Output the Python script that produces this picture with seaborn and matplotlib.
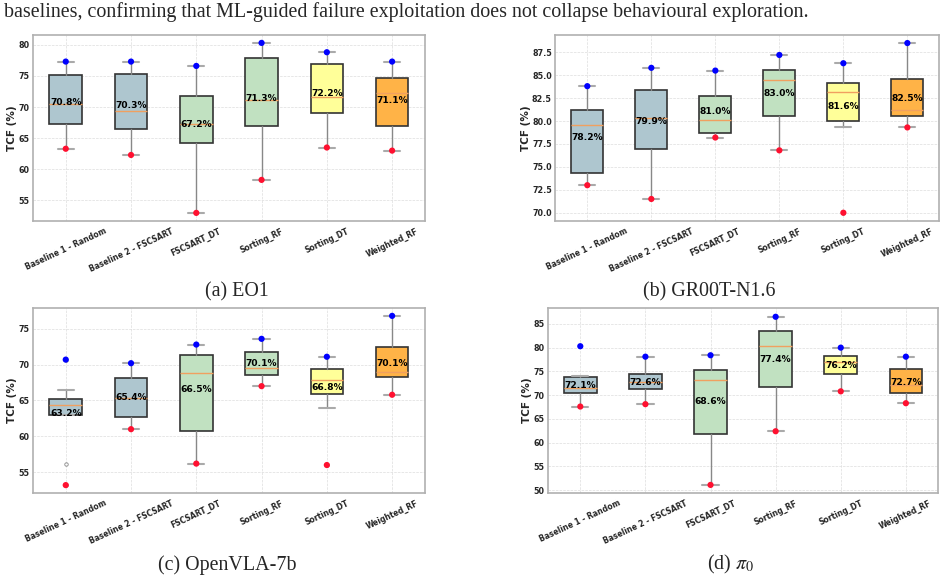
import numpy as np
import pandas as pd
import seaborn as sns
import matplotlib.pyplot as plt
from matplotlib.ticker import MultipleLocator

# style first, fonts after (set_style resets font.family)
sns.set_style("whitegrid", {"grid.linestyle": "--", "grid.color": "#dddddd"})
plt.rcParams['font.family'] = ['DejaVu Sans']
plt.rcParams['mathtext.fontset'] = 'stix'

methods = ["Baseline 1 - Random", "Baseline 2 - FSCSART", "FSCSART_DT",
           "Sorting_RF", "Sorting_DT", "Weighted_RF"]
box_colors = ["#aec6cf", "#aec6cf", "#c1e1c1", "#c1e1c1", "#ffff99", "#ffb347"]

# (a) EO1
eo1_q1 = [67.2, 66.5, 64.2, 67.0, 69.1, 67.0]
eo1_med = [70.5, 69.3, 67.2, 71.1, 71.6, 72.3]
eo1_q3 = [75.1, 75.3, 71.8, 77.8, 76.9, 74.6]
eo1_whislo = [63.3, 62.3, 53.0, 58.3, 63.5, 63.0]
eo1_whishi = [77.3, 77.3, 76.6, 80.3, 78.8, 77.3]
eo1_fliers = [[], [], [], [], [], []]
eo1_min = [63.3, 62.3, 53.0, 58.3, 63.5, 63.0]
eo1_max = [77.3, 77.3, 76.6, 80.3, 78.8, 77.3]
eo1_mean = [70.8, 70.3, 67.2, 71.3, 72.2, 71.1]

# (b) GR00T-N1.6
gr_q1 = [74.3, 77.0, 78.7, 80.6, 80.0, 80.6]
gr_med = [79.6, 80.3, 80.1, 84.5, 83.2, 81.2]
gr_q3 = [81.2, 83.4, 82.7, 85.6, 84.1, 84.6]
gr_whislo = [73.0, 71.5, 78.2, 76.8, 79.3, 79.3]
gr_whishi = [83.8, 85.8, 85.5, 87.2, 86.3, 88.5]
gr_fliers = [[], [], [], [], [70.0], []]
gr_min = [73.0, 71.5, 78.2, 76.8, 70.0, 79.3]
gr_max = [83.8, 85.8, 85.5, 87.2, 86.3, 88.5]
gr_mean = [78.2, 79.9, 81.0, 83.0, 81.6, 82.5]

# (c) OpenVLA-7b
ov_q1 = [63.0, 62.7, 60.8, 68.5, 65.9, 68.3]
ov_med = [64.4, 65.3, 68.9, 69.5, 67.8, 69.0]
ov_q3 = [65.2, 68.2, 71.4, 71.8, 69.4, 72.5]
ov_whislo = [63.0, 61.0, 56.2, 67.0, 64.0, 65.8]
ov_whishi = [66.5, 70.2, 72.8, 73.6, 71.1, 76.8]
ov_fliers = [[70.7, 56.2, 53.2], [], [], [], [56.0], []]
ov_min = [53.2, 61.0, 56.2, 67.0, 56.0, 65.8]
ov_max = [70.7, 70.2, 72.8, 73.6, 71.1, 76.8]
ov_mean = [63.2, 65.4, 66.5, 70.1, 66.8, 70.1]

# (d) pi_0
pi_q1 = [70.5, 71.2, 61.9, 71.8, 74.5, 70.5]
pi_med = [71.4, 72.8, 73.2, 80.3, 76.9, 72.1]
pi_q3 = [73.8, 74.5, 75.2, 83.4, 78.2, 75.5]
pi_whislo = [67.6, 68.1, 51.1, 62.4, 70.8, 68.3]
pi_whishi = [74.1, 78.1, 78.4, 86.5, 80.0, 78.1]
pi_fliers = [[80.3], [], [], [], [], []]
pi_min = [67.6, 68.1, 51.1, 62.4, 70.8, 68.3]
pi_max = [80.3, 78.1, 78.4, 86.5, 80.0, 78.1]
pi_mean = [72.1, 72.6, 68.6, 77.4, 76.2, 72.7]

panels = [
    ("(a) EO1", eo1_q1, eo1_med, eo1_q3, eo1_whislo, eo1_whishi, eo1_fliers, eo1_min, eo1_max, eo1_mean, (51.7, 81.6), 5),
    ("(b) GR00T-N1.6", gr_q1, gr_med, gr_q3, gr_whislo, gr_whishi, gr_fliers, gr_min, gr_max, gr_mean, (69.1, 89.4), 2.5),
    ("(c) OpenVLA-7b", ov_q1, ov_med, ov_q3, ov_whislo, ov_whishi, ov_fliers, ov_min, ov_max, ov_mean, (52.1, 77.9), 5),
    (r"(d) $\pi_0$", pi_q1, pi_med, pi_q3, pi_whislo, pi_whishi, pi_fliers, pi_min, pi_max, pi_mean, (49.4, 88.35), 5),
]

# axes rectangles in figure fractions
rects = [
    [0.035, 0.619, 0.414, 0.321],
    [0.587, 0.619, 0.406, 0.321],
    [0.035, 0.150, 0.414, 0.319],
    [0.579, 0.150, 0.413, 0.319],
]
caption_xy = [(0.25, 0.497), (0.75, 0.497), (0.24, 0.026), (0.772, 0.026)]

fig = plt.figure(figsize=(9.46, 5.8), dpi=100)

fig.text(0.004, 0.979, "baselines, confirming that ML-guided failure exploitation does not collapse behavioural exploration.",
         family="Liberation Serif", fontsize=14.4, ha="left", va="center")

positions = np.arange(1, len(methods) + 1)

for (caption, q1, med, q3, wlo, whi, fl, mn, mx, mean, ylim, step), rect, cxy in zip(panels, rects, caption_xy):
    ax = fig.add_axes(rect)
    stats = []
    for i in range(len(methods)):
        stats.append(dict(q1=q1[i], med=med[i], q3=q3[i], whislo=wlo[i], whishi=whi[i],
                          fliers=fl[i], mean=mean[i], label=methods[i]))
    bp = ax.bxp(stats, positions=positions, widths=0.5, patch_artist=True, showfliers=True,
                boxprops=dict(edgecolor="#333333", linewidth=1.2),
                medianprops=dict(color="#f0a060", linewidth=1.0),
                whiskerprops=dict(color="#888888", linewidth=1.0),
                capprops=dict(color="#aaaaaa", linewidth=1.5),
                flierprops=dict(marker="o", markersize=2.5, markerfacecolor="none",
                                markeredgecolor="#888888", markeredgewidth=0.6))
    for patch, c in zip(bp['boxes'], box_colors):
        patch.set_facecolor(c)

    df = pd.DataFrame({"pos": positions, "tcf_max": mx, "tcf_min": mn})
    sns.scatterplot(data=df, x="pos", y="tcf_max", color="blue", s=20, edgecolor="none", ax=ax, zorder=4)
    sns.scatterplot(data=df, x="pos", y="tcf_min", color="#ff1030", s=20, edgecolor="none", ax=ax, zorder=4)

    for p, m in zip(positions, mean):
        ax.text(p, m, f"{m:.1f}%", ha="center", va="center", fontsize=6.6,
                fontweight="bold", color="black", zorder=5)

    ax.set_xlim(0.5, len(methods) + 0.5)
    ax.set_ylim(*ylim)
    ax.yaxis.set_major_locator(MultipleLocator(step))
    ax.set_xticks(positions)
    ax.set_xticklabels(methods, rotation=25, ha="center", fontsize=5.5, fontweight="bold")
    ax.tick_params(axis="y", labelsize=5.8, length=0, pad=2.5)
    ax.tick_params(axis="x", length=2, color="#aaaaaa", pad=2)
    for lab in ax.get_yticklabels():
        lab.set_fontweight("bold")
    ax.set_xlabel("")
    ax.set_ylabel("TCF (%)", fontsize=7.5, fontweight="bold", labelpad=1.0)
    ax.grid(True, linestyle="--", linewidth=0.5, color="#dddddd")
    ax.set_axisbelow(True)
    for s in ax.spines.values():
        s.set_color("#b0b0b0")
        s.set_linewidth(1.2)

    fig.text(cxy[0], cxy[1], caption, family="Liberation Serif", fontsize=14.4, ha="center", va="center")

fig.savefig("out.png", dpi=100)
